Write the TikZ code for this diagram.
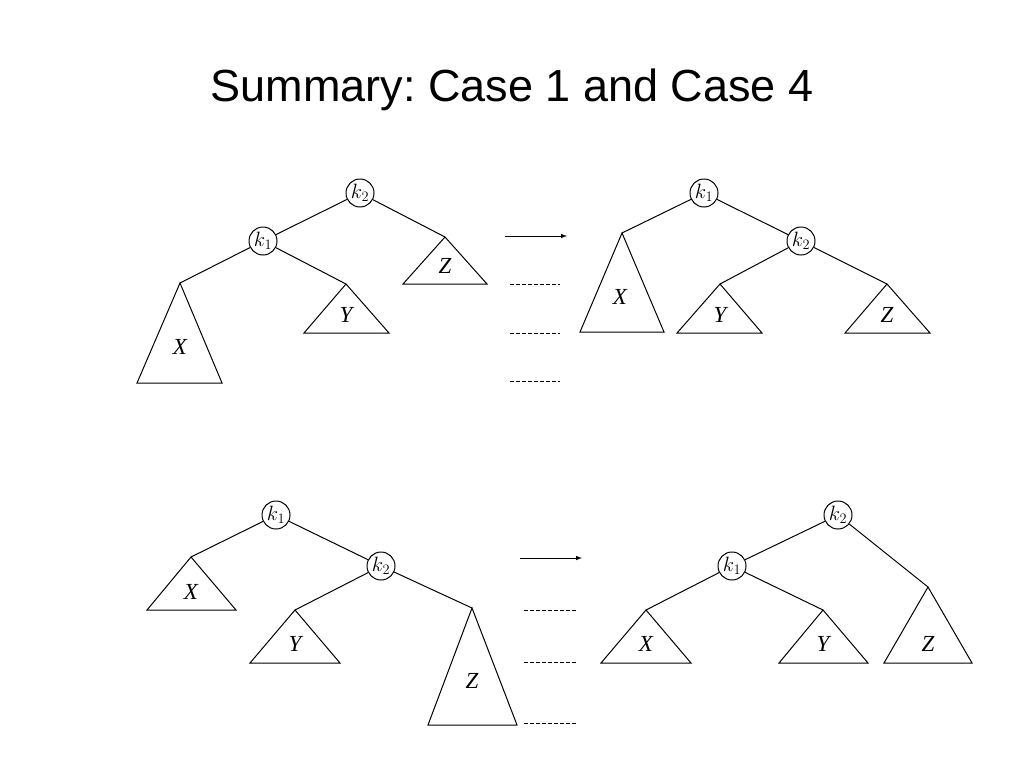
\documentclass[tikz,border=0pt]{standalone}
\usepackage{fontspec}
\setmainfont{Liberation Sans}
\newfontfamily\serifx{Liberation Serif}
\begin{document}
\frenchspacing
\begin{tikzpicture}[x=1pt,y=-1pt,
  knode/.style={circle,draw,line width=1pt,minimum size=28pt,inner sep=0pt,font=\fontsize{21}{21}\selectfont},
  edge/.style={line width=1pt},
  tri/.style={draw,line width=1pt},
  dsh/.style={line width=1pt,dash pattern=on 4pt off 2pt},
  lab/.style={font=\fontsize{23}{23}\selectfont\serifx\itshape}]
\useasboundingbox (0,0) rectangle (1024,768);
\node[font=\fontsize{45}{50}\selectfont] (title) at (512,90) {Summary: Case 1 and Case 4};
% top left
\node[knode] (a2) at (360,193) {$k_2$};
\node[knode] (a1) at (263,241) {$k_1$};
\coordinate (aZ) at (445,237); \draw[tri] (445,237)--(403,284)--(487,284)--cycle; \node[lab] at (445,266) {Z};
\coordinate (aY) at (346,284); \draw[tri] (346,284)--(304,333)--(389,333)--cycle; \node[lab] at (346,315) {Y};
\coordinate (aX) at (180,283); \draw[tri] (180,283)--(137,383)--(222,383)--cycle; \node[lab] at (180,347) {X};
\draw[edge] (a2)--(a1); \draw[edge] (a2)--(aZ); \draw[edge] (a1)--(aX); \draw[edge] (a1)--(aY);
\coordinate (ar1s) at (505,236); \coordinate (ar1e) at (567,236);
\draw[edge,-latex] (ar1s)--(ar1e);
\foreach \y in {284,333,381} \draw[dsh] (510,\y)--(560,\y);
% top right
\node[knode] (b1) at (704,193) {$k_1$};
\node[knode] (b2) at (801,241) {$k_2$};
\coordinate (bX) at (622,233); \draw[tri] (622,233)--(580,332)--(664,332)--cycle; \node[lab] at (620,297) {X};
\coordinate (bY) at (720,284); \draw[tri] (720,284)--(677,333)--(762,333)--cycle; \node[lab] at (720,315) {Y};
\coordinate (bZ) at (887,284); \draw[tri] (887,284)--(845,333)--(930,333)--cycle; \node[lab] at (887,315) {Z};
\draw[edge] (b1)--(b2); \draw[edge] (b1)--(bX); \draw[edge] (b2)--(bY); \draw[edge] (b2)--(bZ);
% bottom left
\node[knode] (c1) at (276,515) {$k_1$};
\node[knode] (c2) at (381,566) {$k_2$};
\coordinate (cX) at (191,557); \draw[tri] (191,557)--(147,610)--(236,610)--cycle; \node[lab] at (191,592) {X};
\coordinate (cY) at (295,610); \draw[tri] (295,610)--(250,663)--(340,663)--cycle; \node[lab] at (295,644) {Y};
\coordinate (cZ) at (472,608); \draw[tri] (472,608)--(428,725)--(517,725)--cycle; \node[lab] at (472,681) {Z};
\draw[edge] (c1)--(c2); \draw[edge] (c1)--(cX); \draw[edge] (c2)--(cY); \draw[edge] (c2)--(cZ);
\coordinate (ar2s) at (520,558); \coordinate (ar2e) at (582,558);
\draw[edge,-latex] (ar2s)--(ar2e);
\foreach \y in {610,662,723} \draw[dsh] (524,\y)--(576,\y);
% bottom right
\node[knode] (d2) at (838,515) {$k_2$};
\node[knode] (d1) at (732,566) {$k_1$};
\coordinate (dX) at (646,610); \draw[tri] (646,610)--(601,663)--(691,663)--cycle; \node[lab] at (646,644) {X};
\coordinate (dY) at (823,610); \draw[tri] (823,610)--(779,663)--(868,663)--cycle; \node[lab] at (823,644) {Y};
\coordinate (dZ) at (928,587); \draw[tri] (928,587)--(884,663)--(972,663)--cycle; \node[lab] at (928,644) {Z};
\draw[edge] (d2)--(d1); \draw[edge] (d2)--(dZ); \draw[edge] (d1)--(dX); \draw[edge] (d1)--(dY);
\end{tikzpicture}
\end{document}
